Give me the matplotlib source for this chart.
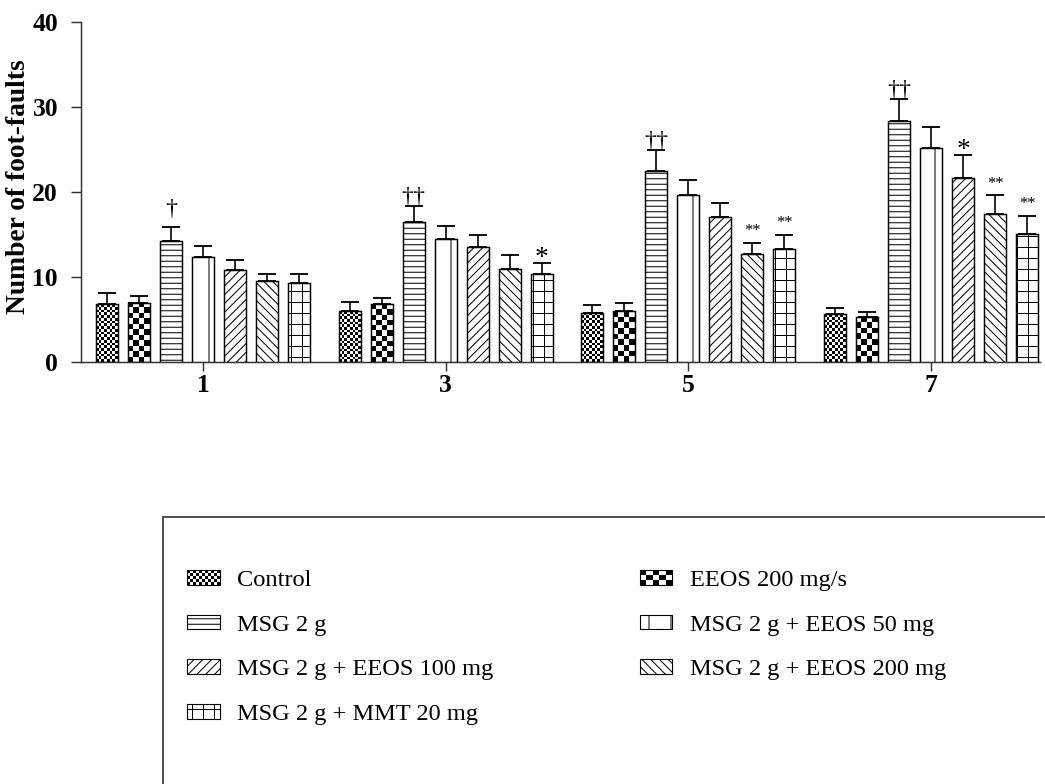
import numpy as np
import matplotlib
matplotlib.use("Agg")
import matplotlib.pyplot as plt
from matplotlib.patches import Rectangle, Patch
from matplotlib.legend_handler import HandlerBase

# ---------------- data ----------------
days = ["1", "3", "5", "7"]
series_names = ["Control", "EEOS 200 mg/s", "MSG 2 g", "MSG 2 g + EEOS 50 mg",
                "MSG 2 g + EEOS 100 mg", "MSG 2 g + EEOS 200 mg", "MSG 2 g + MMT 20 mg"]
control = [6.8, 6.0, 5.8, 5.6]
control_err = [1.35, 1.1, 0.9, 0.8]
eeos200 = [7.0, 6.8, 6.0, 5.3]
eeos200_err = [0.8, 0.7, 0.9, 0.6]
msg = [14.2, 16.5, 22.5, 28.4]
msg_err = [1.7, 1.8, 2.4, 2.5]
msg_eeos50 = [12.3, 14.5, 19.6, 25.2]
msg_eeos50_err = [1.4, 1.5, 1.8, 2.4]
msg_eeos100 = [10.8, 13.5, 17.1, 21.6]
msg_eeos100_err = [1.2, 1.5, 1.65, 2.7]
msg_eeos200 = [9.5, 10.9, 12.75, 17.4]
msg_eeos200_err = [0.8, 1.65, 1.25, 2.2]
msg_mmt = [9.25, 10.4, 13.3, 15.1]
msg_mmt_err = [1.05, 1.2, 1.65, 2.1]

sig_msg = ["\u2020", "\u2020\u2020", "\u2020\u2020", "\u2020\u2020"]
sig_eeos100 = ["", "", "", "*"]
sig_eeos200 = ["", "", "**", "**"]
sig_mmt = ["", "*", "**", "**"]

values = [control, eeos200, msg, msg_eeos50, msg_eeos100, msg_eeos200, msg_mmt]
errors = [control_err, eeos200_err, msg_err, msg_eeos50_err, msg_eeos100_err,
          msg_eeos200_err, msg_mmt_err]
sigs = [None, None, sig_msg, None, sig_eeos100, sig_eeos200, sig_mmt]
hatches = [None, None, "----", "|", "/////", "\\\\\\\\\\", "++"]
checker_px = [2.75, 5.5, None, None, None, None, None]

# ---------------- style ----------------
plt.rcParams["font.family"] = ["Liberation Serif", "DejaVu Serif"]
plt.rcParams["hatch.linewidth"] = 0.55

DPI = 132
fig = plt.figure(figsize=(1045 / DPI, 784 / DPI), dpi=DPI)
W, H = 1045, 784
ax = fig.add_axes([81 / W, 1 - 362 / H, (1040 - 81) / W, 340 / H])

x = np.arange(len(days))
pitch = 0.1319
width = 0.0906

ax.set_xlim(-0.503, 3.449)
ax.set_ylim(0, 40)

p0 = ax.transData.transform((0, 0))
p1 = ax.transData.transform((1, 1))
pxx, pxy = p1[0] - p0[0], p1[1] - p0[1]

for k in range(7):
    xs = x + (k - 3) * pitch
    if checker_px[k] is not None:
        bars = ax.bar(xs, values[k], width, facecolor="none", edgecolor="black",
                      linewidth=0.8, zorder=3)
        cell = checker_px[k]
        for b in bars:
            bx, bw, bh = b.get_x(), b.get_width(), b.get_height()
            nx = max(1, int(round(bw * pxx / cell)))
            ny = max(1, int(round(bh * pxy / cell)))
            ii, jj = np.meshgrid(np.arange(nx), np.arange(ny))
            arr = ((ii + jj) % 2).astype(float)
            ax.imshow(arr, cmap="gray", vmin=0, vmax=1, extent=(bx, bx + bw, 0, bh),
                      origin="lower", aspect="auto", interpolation="nearest", zorder=2)
    else:
        ax.bar(xs, values[k], width, facecolor="white", edgecolor="black",
               linewidth=0.8, hatch=hatches[k], zorder=3)
    ax.errorbar(xs, values[k], yerr=[np.zeros(len(days)), errors[k]], fmt="none",
                ecolor="black", elinewidth=0.9, capsize=5, capthick=1.0, zorder=4)
    if sigs[k] is not None:
        for g, s in enumerate(sigs[k]):
            if not s:
                continue
            top = values[k][g] + errors[k][g]
            if s == "*":
                fs, off = 15, -4
            elif s == "**":
                fs, off = 9, 2
            elif s == "\u2020":
                fs, off = 13, 4
            else:
                fs, off = 13, -1
            ax.annotate(s, (xs[g], top), xytext=(0, off), textcoords="offset points",
                        ha="center", va="bottom", fontsize=fs, zorder=5)

ax.set_xlim(-0.503, 3.449)
ax.set_ylim(0, 40)
ax.set_xticks(x)
ax.set_xticklabels(days, fontweight="bold", fontsize=14)
ax.set_yticks([0, 10, 20, 30, 40])
ax.set_yticklabels(["0", "10", "20", "30", "40"], fontweight="bold", fontsize=14)
for s in ["top", "right"]:
    ax.spines[s].set_visible(False)
for s in ["left", "bottom"]:
    ax.spines[s].set_color("#333333")
    ax.spines[s].set_linewidth(0.8)
ax.tick_params(axis="y", direction="out", length=5.5, width=0.8, pad=7, color="#333333")
ax.tick_params(axis="x", direction="out", length=5.0, width=0.8, pad=1.5, color="#333333")

fig.text(19 / W, 1 - 187 / H, "Number of foot-faults", rotation=90, ha="center",
         va="center", fontsize=15, fontweight="bold")

# ---------------- legend ----------------
class CheckerHandler(HandlerBase):
    def __init__(self, nx, ny):
        super().__init__()
        self.nx, self.ny = nx, ny

    def create_artists(self, legend, orig_handle, xdescent, ydescent, width, height,
                       fontsize, trans):
        arts = []
        cw, ch = width / self.nx, height / self.ny
        x0, y0 = -xdescent, -ydescent
        for i in range(self.nx):
            for j in range(self.ny):
                if (i + j) % 2 == 0:
                    arts.append(Rectangle((x0 + i * cw, y0 + j * ch), cw, ch,
                                          facecolor="black", edgecolor="none",
                                          transform=trans))
        arts.append(Rectangle((x0, y0), width, height, facecolor="none",
                              edgecolor="black", linewidth=0.6, transform=trans))
        return arts

h_ctrl = Patch(facecolor="white", edgecolor="black")
h_eeos = Patch(facecolor="white", edgecolor="black")
h_list = [h_ctrl, h_eeos]
for k in range(2, 7):
    h_list.append(Patch(facecolor="white", edgecolor="black", linewidth=0.6,
                        hatch=hatches[k]))
order = [0, 2, 4, 6, 1, 3, 5]
leg = fig.legend([h_list[i] for i in order], [series_names[i] for i in order],
                 handler_map={h_ctrl: CheckerHandler(11, 5), h_eeos: CheckerHandler(5, 3)},
                 loc="upper left", bbox_to_anchor=(187 / W, 1 - 570 / H), ncol=2,
                 frameon=False, borderpad=0, fontsize=13.3, handlelength=1.35,
                 handleheight=0.55, handletextpad=0.7, columnspacing=6.0,
                 labelspacing=0.97, borderaxespad=0)

fig.add_artist(Rectangle((163 / W, -0.05), 1.0, (784 - 517) / H + 0.05,
                         transform=fig.transFigure, fill=False, edgecolor="#444444",
                         linewidth=1.0))

fig.savefig("out.png", dpi=DPI)
